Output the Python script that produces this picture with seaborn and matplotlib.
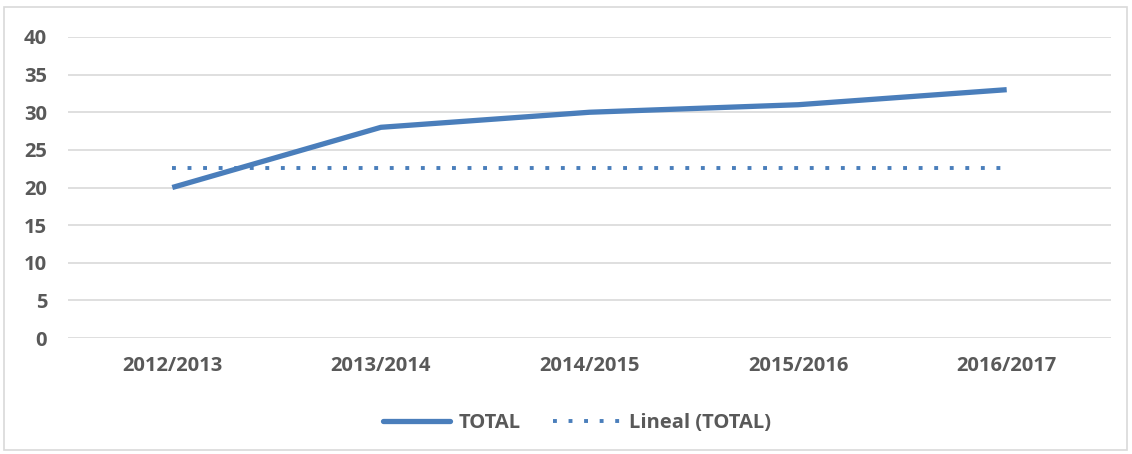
import matplotlib
matplotlib.use("Agg")
import matplotlib.pyplot as plt
import seaborn as sns
import pandas as pd
from matplotlib.patches import Rectangle
from matplotlib.lines import Line2D

categories = ["2012/2013", "2013/2014", "2014/2015", "2015/2016", "2016/2017"]
total = [20, 28, 30, 31, 33]
lineal_total = [22.6, 22.6, 22.6, 22.6, 22.6]
y_ticks = [0, 5, 10, 15, 20, 25, 30, 35, 40]

sns.set_theme(style="white")
plt.rcParams['font.family'] = ['Open Sans', 'DejaVu Sans']

color = "#4A7EBB"
text_color = "#595959"
dots = (0, (1.0, 3.0))
fs = 14.5

df = pd.DataFrame({"x": range(len(categories)), "TOTAL": total, "Lineal": lineal_total})

fig = plt.figure(figsize=(11.32, 4.54), dpi=100)
ax = fig.add_axes([68/1132, 1-338/454, (1111-68)/1132, (338-37)/454])

sns.lineplot(data=df, x="x", y="TOTAL", ax=ax, color=color, linewidth=3.8,
             solid_capstyle="butt", zorder=3)
sns.lineplot(data=df, x="x", y="Lineal", ax=ax, color=color, linewidth=2.8,
             zorder=3)
ax.lines[1].set_linestyle(dots)
ax.lines[1].set_dash_capstyle("butt")

ax.set_xlim(-0.5, len(categories) - 0.5)
ax.set_ylim(0, 40)
ax.set_yticks(y_ticks)
ax.set_xticks(range(len(categories)))
ax.set_xticklabels(categories)
ax.set_xlabel("")
ax.set_ylabel("")
ax.yaxis.grid(True, color="#D9D9D9", linewidth=1.2)
ax.xaxis.grid(False)
for s in ax.spines.values():
    s.set_visible(False)
ax.tick_params(axis="both", length=0, labelsize=fs, labelcolor=text_color)
ax.tick_params(axis="y", pad=15)
ax.tick_params(axis="x", pad=13)
for lab in ax.get_xticklabels() + ax.get_yticklabels():
    lab.set_fontweight("bold")

handles = [Line2D([], [], color=color, linewidth=3.8),
           Line2D([], [], color=color, linewidth=2.8, linestyle=dots)]
leg = fig.legend(handles, ["TOTAL", "Lineal (TOTAL)"], loc="center",
                 bbox_to_anchor=(577/1132, 1-423/454), ncol=2, frameon=False,
                 handlelength=3.3, columnspacing=1.6, handletextpad=0.45,
                 prop={"size": fs, "weight": "bold"})
for t in leg.get_texts():
    t.set_color(text_color)

fig.patches.append(Rectangle((4/1132, 1-450/454), (1127-4)/1132, (450-7)/454,
                             transform=fig.transFigure, fill=False,
                             edgecolor="#D9D9D9", linewidth=1.2))

fig.savefig("out.png", dpi=100)
